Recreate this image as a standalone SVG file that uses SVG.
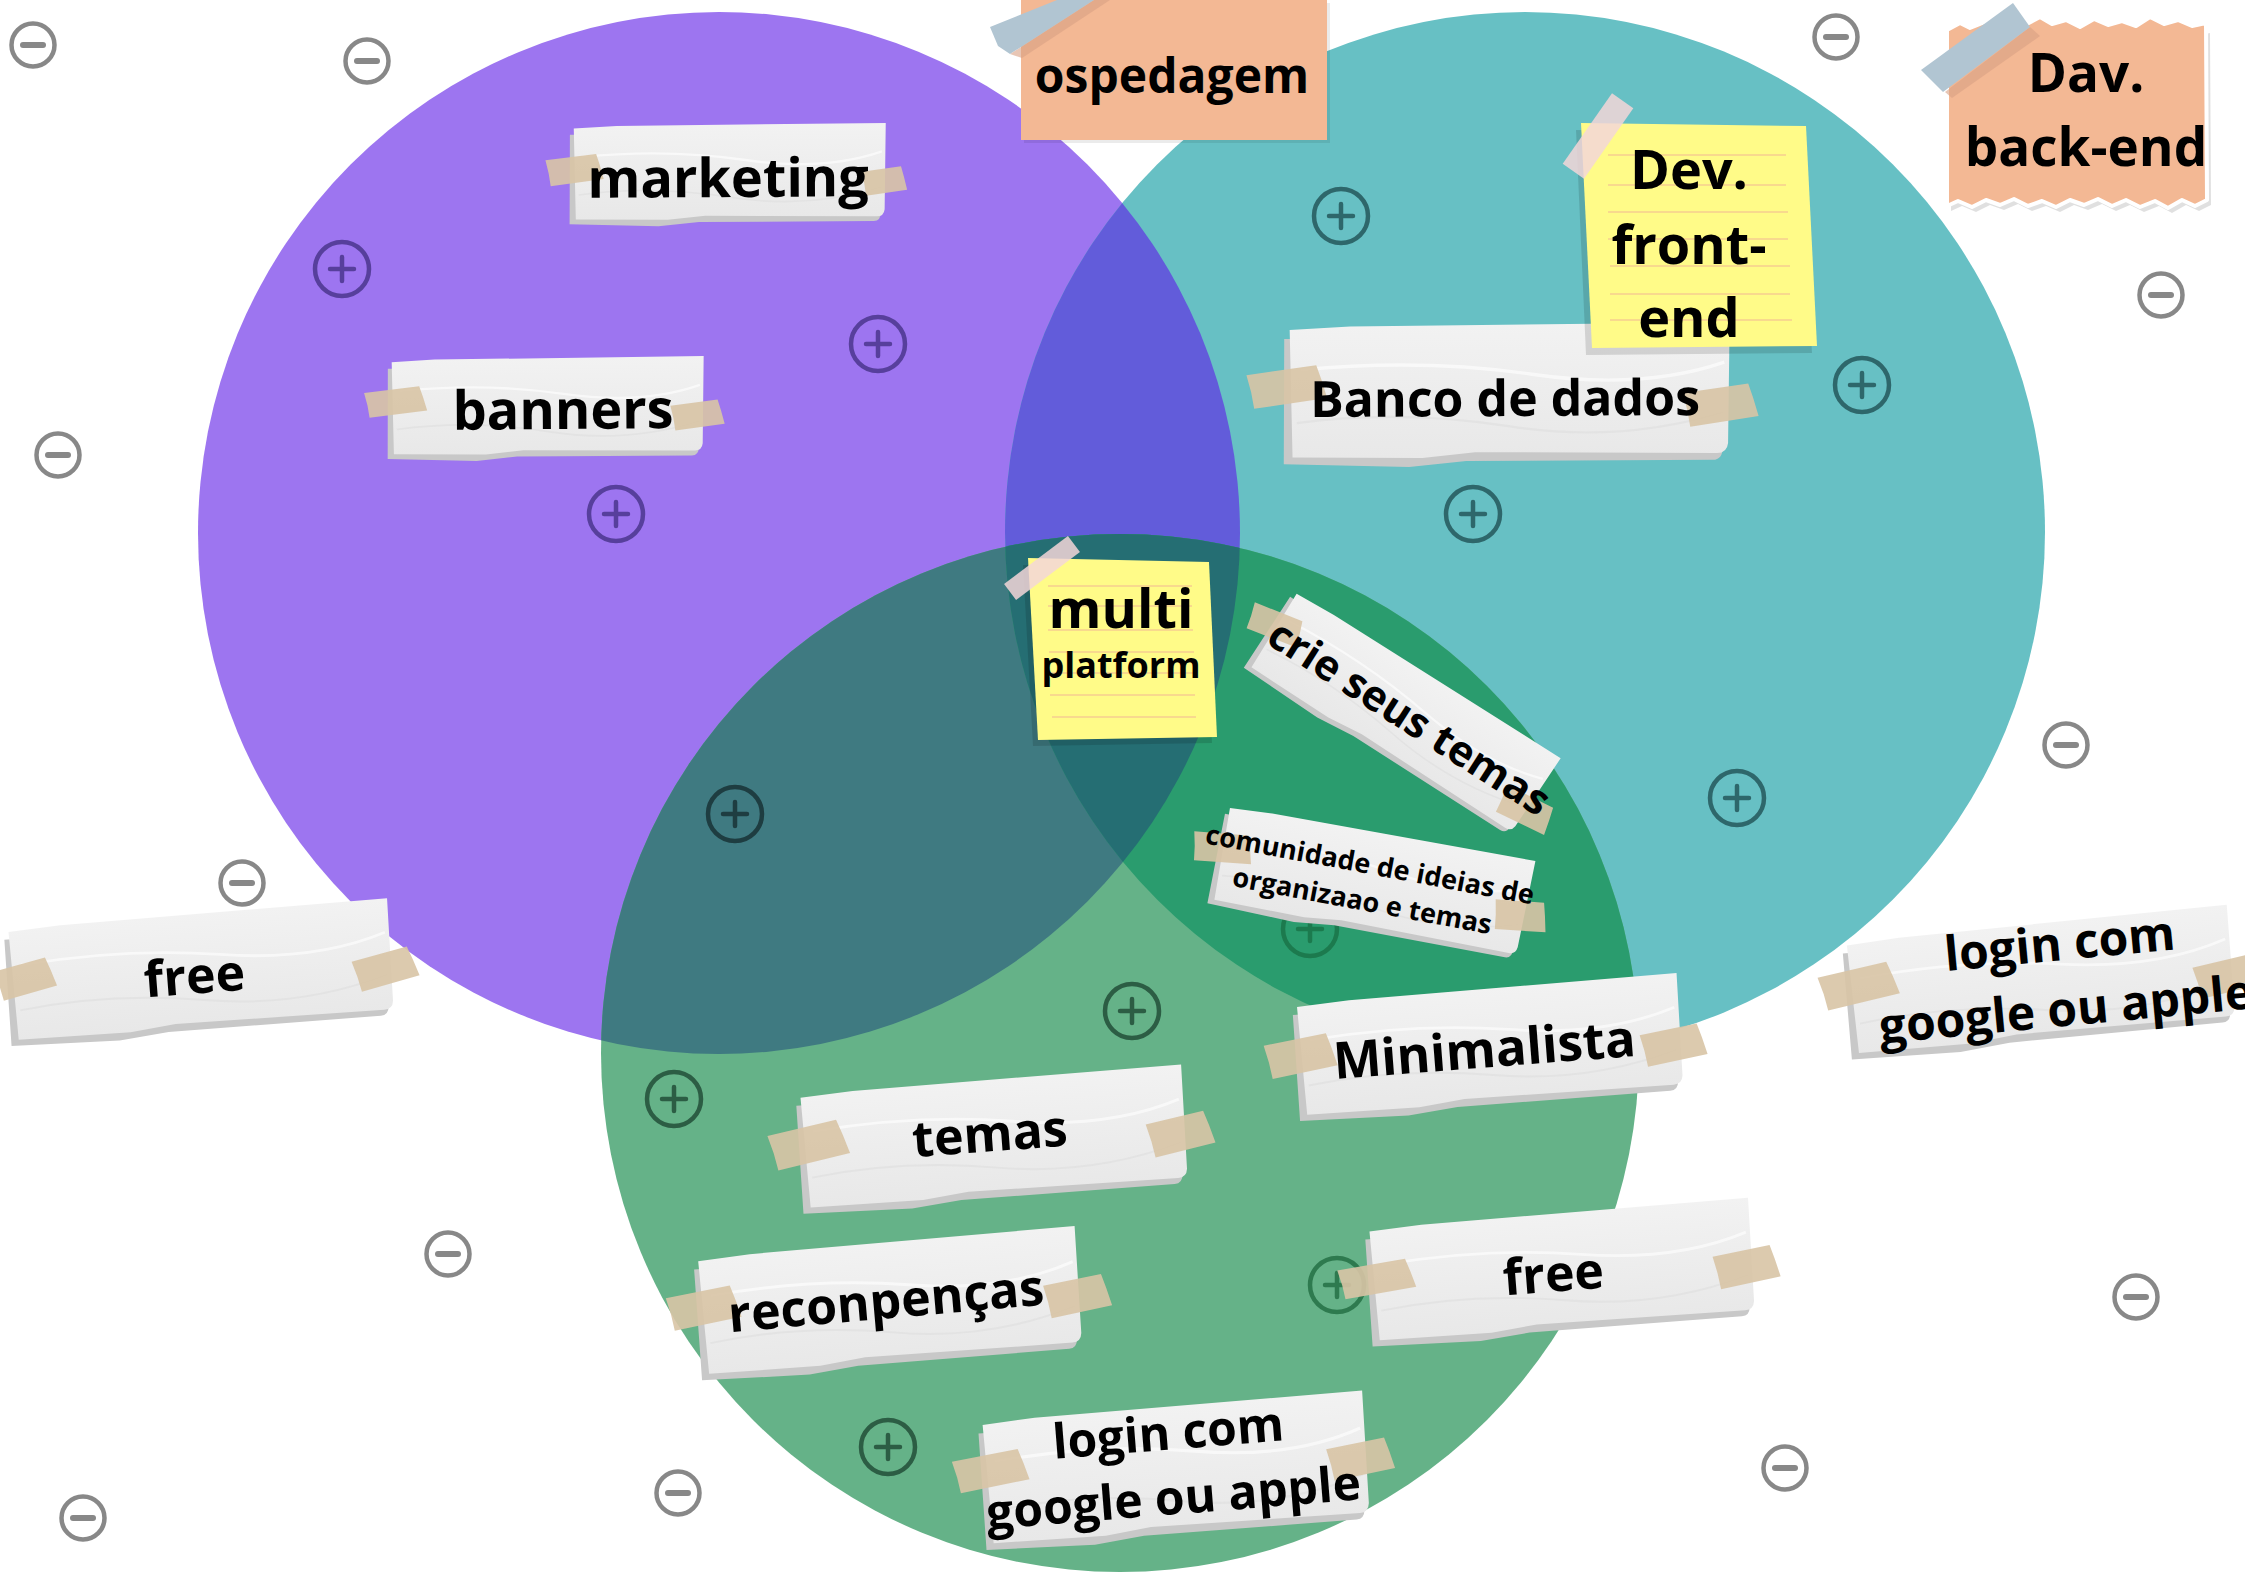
<svg xmlns="http://www.w3.org/2000/svg" width="2245" height="1587" viewBox="0 0 2245 1587">
<defs>
<style>
.t{font-family:"Open Sans","Noto Sans","Liberation Sans",sans-serif;font-weight:700;fill:#000;text-anchor:middle}
.ic circle{fill:none;stroke-width:4.5}
.ic path{fill:none;stroke-width:4.5;stroke-linecap:round}
.mi circle{fill:none;stroke:#888;stroke-width:4.5}
.mi path{fill:none;stroke:#888;stroke-width:6;stroke-linecap:round}
.pp{stroke:#573F9C}
.pt{stroke:#2E676B}
.pg{stroke:#2C5D44}
.ppg{stroke:#1E3D41}
.ptg{stroke:#1C7A4E}
.pg2{stroke:#2E7A4F}
.tp{opacity:.9}
.yl{fill:#FFFB88}
.ysh{fill:#000;opacity:.13}
.yline{stroke:#F8D98E;stroke-width:2;fill:none}
.sal{fill:#F3B894}
.btape{fill:#B1C5D2}
.ptape{fill:#F3D6D8;opacity:.85}
</style>
<clipPath id="cp"><circle cx="719" cy="533" r="521"/></clipPath>
<clipPath id="ct"><circle cx="1525" cy="532" r="520"/></clipPath>
<linearGradient id="paperG" x1="0" y1="0" x2="0" y2="1">
<stop offset="0" stop-color="#F2F2F2"/>
<stop offset="1" stop-color="#E8E8E8"/>
</linearGradient>
<symbol id="card" viewBox="0 0 400 120" preserveAspectRatio="none" style="overflow:visible">
<path d="M-5,12 L-6,125 L108,128 L160,123 L384,123 Q393,123 393,112 L392,16 Z" fill="#C8C8C8"/>
<path d="M0,4 L55,1 L400,-1 L398,108 Q397,117 388,117 L168,115 L120,120 L2,119 Z" fill="url(#paperG)"/>
<path d="M10,40 Q120,30 220,45 T395,35" stroke="#FFFFFF" stroke-opacity=".6" stroke-width="3" fill="none"/>
<path d="M6,88 Q100,76 200,92 T394,80" stroke="#DEDEDE" stroke-opacity=".6" stroke-width="2" fill="none"/>
</symbol>
<symbol id="tape" viewBox="0 0 100 50" preserveAspectRatio="none" style="overflow:visible">
<path d="M2,5 L90,0 L95,20 L100,44 L8,50 L6,28 Z" fill="#D9C5A6"/>
</symbol>
</defs>
<rect width="2245" height="1587" fill="#FFFFFF"/>

<g id="venn">
<circle cx="719" cy="533" r="521" fill="#9D75F0"/>
<circle cx="1525" cy="532" r="520" fill="#67C0C4"/>
<circle cx="1120" cy="1053" r="519" fill="#65B288"/>
<circle cx="1525" cy="532" r="520" fill="#625CDA" clip-path="url(#cp)"/>
<circle cx="1120" cy="1053" r="519" fill="#3F7A81" clip-path="url(#cp)"/>
<circle cx="1120" cy="1053" r="519" fill="#2A9C6E" clip-path="url(#ct)"/>
<g clip-path="url(#cp)"><circle cx="1120" cy="1053" r="519" fill="#256E73" clip-path="url(#ct)"/></g>
</g>

<g id="icons">
<g class="ic pp" transform="translate(342,269)"><circle r="27"/><path d="M-12,0H12M0,-12V12"/></g>
<g class="ic pp" transform="translate(878,344)"><circle r="27"/><path d="M-12,0H12M0,-12V12"/></g>
<g class="ic pp" transform="translate(616,514)"><circle r="27"/><path d="M-12,0H12M0,-12V12"/></g>
<g class="ic ppg" transform="translate(735,814)"><circle r="27"/><path d="M-12,0H12M0,-12V12"/></g>
<g class="ic pt" transform="translate(1341,216)"><circle r="27"/><path d="M-12,0H12M0,-12V12"/></g>
<g class="ic pt" transform="translate(1862,385)"><circle r="27"/><path d="M-12,0H12M0,-12V12"/></g>
<g class="ic pt" transform="translate(1473,514)"><circle r="27"/><path d="M-12,0H12M0,-12V12"/></g>
<g class="ic pt" transform="translate(1737,798)"><circle r="27"/><path d="M-12,0H12M0,-12V12"/></g>
<g class="ic ptg" transform="translate(1310,929)"><circle r="27"/><path d="M-12,0H12M0,-12V12"/></g>
<g class="ic pg" transform="translate(1132,1011)"><circle r="27"/><path d="M-12,0H12M0,-12V12"/></g>
<g class="ic pg" transform="translate(674,1099)"><circle r="27"/><path d="M-12,0H12M0,-12V12"/></g>
<g class="ic pg" transform="translate(888,1447)"><circle r="27"/><path d="M-12,0H12M0,-12V12"/></g>
<g class="ic pg2" transform="translate(1337,1285)"><circle r="27"/><path d="M-12,0H12M0,-12V12"/></g>
<g class="mi" transform="translate(33,45)"><circle r="21.5"/><path d="M-10,0H10"/></g>
<g class="mi" transform="translate(367,61)"><circle r="21.5"/><path d="M-10,0H10"/></g>
<g class="mi" transform="translate(58,455)"><circle r="21.5"/><path d="M-10,0H10"/></g>
<g class="mi" transform="translate(242,883)"><circle r="21.5"/><path d="M-10,0H10"/></g>
<g class="mi" transform="translate(448,1254)"><circle r="21.5"/><path d="M-10,0H10"/></g>
<g class="mi" transform="translate(83,1518)"><circle r="21.5"/><path d="M-10,0H10"/></g>
<g class="mi" transform="translate(678,1493)"><circle r="21.5"/><path d="M-10,0H10"/></g>
<g class="mi" transform="translate(1836,37)"><circle r="21.5"/><path d="M-10,0H10"/></g>
<g class="mi" transform="translate(2161,295)"><circle r="21.5"/><path d="M-10,0H10"/></g>
<g class="mi" transform="translate(2066,745)"><circle r="21.5"/><path d="M-10,0H10"/></g>
<g class="mi" transform="translate(2136,1297)"><circle r="21.5"/><path d="M-10,0H10"/></g>
<g class="mi" transform="translate(1785,1468)"><circle r="21.5"/><path d="M-10,0H10"/></g>
</g>

<g id="connectors"></g>

<g id="n-marketing">
<use href="#card" x="-156" y="-47.5" width="312" height="95" transform="translate(730,172) rotate(-0.3)"/>
<use class="tp" href="#tape" x="-29" y="-14.5" width="58" height="29" transform="translate(574,170) rotate(-4)"/>
<use class="tp" href="#tape" x="-22.5" y="-13.5" width="45" height="27" transform="translate(884,181) rotate(-4)"/>
<text class="t" x="-2" y="25" font-size="54" transform="translate(730,172) rotate(-0.3)">marketing</text>
</g>

<g id="n-banners">
<use href="#card" x="-156" y="-48" width="312" height="96" transform="translate(548,406) rotate(-0.4)"/>
<use class="tp" href="#tape" x="-31.5" y="-14" width="63" height="28" transform="translate(395,402) rotate(-4)"/>
<use class="tp" href="#tape" x="-27" y="-14" width="54" height="28" transform="translate(697,415) rotate(-4)"/>
<text class="t" x="15" y="23" font-size="54" transform="translate(548,406) rotate(-0.4)">banners</text>
</g>

<g id="n-ospedagem">
<rect x="1024" y="3" width="306" height="140" fill="#000" opacity=".08"/>
<rect class="sal" x="1021" y="0" width="306" height="140"/>
<path d="M1010,54 L1094,0 L1110,0 L1022,58 Z" fill="#D9A083" opacity=".6"/>
<path class="btape" d="M990,27 L1057,0 L1094,0 L1010,54 L998,46 Z"/>
<text class="t" x="1172" y="93" font-size="48">ospedagem</text>
</g>

<g id="n-banco">
<use href="#card" x="-220" y="-66.5" width="440" height="133" transform="translate(1510,391) rotate(-0.3)"/>
<use class="tp" href="#tape" x="-40" y="-19" width="80" height="38" transform="translate(1286,387) rotate(-5)"/>
<use class="tp" href="#tape" x="-37.5" y="-19" width="75" height="38" transform="translate(1720,405) rotate(-5)"/>
<text class="t" x="-5" y="25" font-size="50" transform="translate(1510,391) rotate(-0.3)">Banco de dados</text>
</g>

<g id="n-devfront">
<path class="ysh" d="M1576,130 L1800,133 L1812,353 L1586,355 Z"/>
<path class="yl" d="M1581,123 L1806,126 L1817,346 L1592,348 Z"/>
<path class="yline" d="M1608,155H1786M1608,185H1786M1608,212H1788M1608,239H1788M1610,266H1790M1610,294H1790M1610,320H1792"/>
<rect class="ptape" x="-43" y="-13" width="86" height="26" transform="translate(1598,136) rotate(-55)"/>
<text class="t" x="1689" y="189" font-size="54">Dev.</text>
<text class="t" x="1689" y="264" font-size="54">front-</text>
<text class="t" x="1689" y="337" font-size="54">end</text>
</g>

<g id="n-davback">
<path d="M1951,40 L1964,33 L1974,38 L1989,32 L2002,36 L2016,29 L2029,35 L2044,27 L2056,34 L2070,30 L2084,37 L2098,29 L2112,35 L2126,31 L2140,36 L2154,27 L2168,34 L2182,30 L2196,36 L2210,33 L2211,205 L2199,211 L2186,205 L2172,213 L2159,206 L2144,212 L2130,205 L2116,211 L2102,204 L2088,210 L2074,205 L2060,212 L2046,206 L2032,211 L2018,204 L2004,210 L1990,205 L1976,212 L1962,206 L1951,211 Z" fill="#000" opacity=".12"/>
<path class="sal" stroke="#FFFFFF" stroke-width="4" stroke-linejoin="round" d="M1947,30 L1960,23 L1970,28 L1985,22 L1998,26 L2012,19 L2025,25 L2040,17 L2052,24 L2066,20 L2080,27 L2094,19 L2108,25 L2122,21 L2136,26 L2150,17 L2164,24 L2178,20 L2192,26 L2206,23 L2207,200 L2195,206 L2182,200 L2168,208 L2155,201 L2140,207 L2126,200 L2112,206 L2098,199 L2084,205 L2070,200 L2056,207 L2042,201 L2028,206 L2014,199 L2000,205 L1986,200 L1972,207 L1958,201 L1947,206 Z"/>
<path d="M1945,92 L2030,27 L2040,36 L1952,98 Z" fill="#D9A083" opacity=".6"/>
<path class="btape" d="M1921,70 L2013,3 L2030,27 L1943,92 Z"/>
<text class="t" x="2086" y="92" font-size="53">Dav.</text>
<text class="t" x="2086" y="166" font-size="53">back-end</text>
</g>

<g id="n-multi">
<path class="ysh" d="M1023,565 L1204,569 L1212,743 L1033,746 Z"/>
<path class="yl" d="M1028,558 L1209,562 L1217,737 L1038,740 Z"/>
<path class="yline" d="M1048,586H1192M1048,606H1192M1048,630H1193M1049,652H1194M1049,673H1194M1050,695H1195M1052,717H1196"/>
<rect class="ptape" x="-40" y="-10" width="80" height="20" transform="translate(1042,568) rotate(-37)"/>
<text class="t" x="1121" y="628" font-size="54">multi</text>
<text class="t" x="1121" y="678" font-size="36">platform</text>
</g>

<g id="n-crie">
<use href="#card" x="-155.5" y="-45" width="311" height="90" transform="translate(1405,713) rotate(32.6)"/>
<use class="tp" href="#tape" x="-29" y="-15" width="58" height="30" transform="translate(1275,625) rotate(25)"/>
<use class="tp" href="#tape" x="-29" y="-16" width="58" height="32" transform="translate(1525,810) rotate(30)"/>
<text class="t" x="6" y="16" font-size="42" transform="translate(1405,713) rotate(32.6)">crie seus temas</text>
</g>

<g id="n-comunidade">
<use href="#card" x="-155" y="-48.5" width="310" height="97" transform="translate(1374,881) rotate(10.6)"/>
<use class="tp" href="#tape" x="-31" y="-16" width="62" height="32" transform="translate(1222,848) rotate(8)"/>
<use class="tp" href="#tape" x="-27.5" y="-16.5" width="55" height="33" transform="translate(1520,916) rotate(8)"/>
<g transform="translate(1374,881) rotate(10.6)">
<text class="t" x="-7" y="-6" font-size="27">comunidade de ideias de</text>
<text class="t" x="-8" y="31" font-size="27">organizaao e temas</text>
</g>
</g>

<g id="n-free-left">
<use href="#card" x="-190" y="-56.5" width="380" height="113" transform="translate(202,970) rotate(-4.4)"/>
<use class="tp" href="#tape" x="-30" y="-17" width="60" height="34" transform="translate(25,979) rotate(-12)"/>
<use class="tp" href="#tape" x="-32.5" y="-17.5" width="65" height="35" transform="translate(385,969) rotate(-12)"/>
<text class="t" x="-8" y="23" font-size="50" transform="translate(202,970) rotate(-4.4)">free</text>
</g>

<g id="n-login-right">
<use href="#card" x="-191" y="-56.5" width="382" height="113" transform="translate(2042,980) rotate(-5.4)"/>
<use class="tp" href="#tape" x="-40" y="-19" width="80" height="38" transform="translate(1858,986) rotate(-10)"/>
<use class="tp" href="#tape" x="-35" y="-18" width="70" height="36" transform="translate(2228,976) rotate(-10)"/>
<g transform="translate(2042,980) rotate(-5.4)">
<text class="t" x="21" y="-18" font-size="48">login com</text>
<text class="t" x="21" y="48" font-size="48">google ou apple</text>
</g>
</g>

<g id="n-minimalista">
<use href="#card" x="-190.5" y="-56.5" width="381" height="113" transform="translate(1491,1045) rotate(-4.4)"/>
<use class="tp" href="#tape" x="-36" y="-19" width="72" height="38" transform="translate(1300,1056) rotate(-8)"/>
<use class="tp" href="#tape" x="-33" y="-18" width="66" height="36" transform="translate(1673,1045) rotate(-8)"/>
<text class="t" x="-7" y="22" font-size="51" transform="translate(1491,1045) rotate(-4.4)">Minimalista</text>
</g>

<g id="n-temas">
<use href="#card" x="-191" y="-57.5" width="382" height="115" transform="translate(995,1137) rotate(-4.3)"/>
<use class="tp" href="#tape" x="-40" y="-20" width="80" height="40" transform="translate(808,1145) rotate(-10)"/>
<use class="tp" href="#tape" x="-33.5" y="-19" width="67" height="38" transform="translate(1180,1134) rotate(-10)"/>
<text class="t" x="-5" y="14" font-size="50" transform="translate(995,1137) rotate(-4.3)">temas</text>
</g>

<g id="n-reconpencas">
<use href="#card" x="-189" y="-59" width="378" height="118" transform="translate(891,1301) rotate(-4.6)"/>
<use class="tp" href="#tape" x="-37" y="-18.5" width="74" height="37" transform="translate(703,1308) rotate(-8)"/>
<use class="tp" href="#tape" x="-33.5" y="-18.5" width="67" height="37" transform="translate(1077,1296) rotate(-8)"/>
<text class="t" x="-5" y="17" font-size="50" transform="translate(891,1301) rotate(-5)">reconpenças</text>
</g>

<g id="n-login-bottom">
<use href="#card" x="-190.5" y="-62" width="381" height="124" transform="translate(1177,1468) rotate(-4.4)"/>
<use class="tp" href="#tape" x="-38" y="-18" width="76" height="36" transform="translate(990,1471) rotate(-8)"/>
<use class="tp" href="#tape" x="-33.5" y="-18" width="67" height="36" transform="translate(1360,1459) rotate(-8)"/>
<g transform="translate(1177,1468) rotate(-4.6)">
<text class="t" x="-6" y="-19" font-size="48">login com</text>
<text class="t" x="-6" y="46" font-size="48">google ou apple</text>
</g>
</g>

<g id="n-free-bottom">
<use href="#card" x="-190" y="-57" width="380" height="114" transform="translate(1563,1270) rotate(-4.4)"/>
<use class="tp" href="#tape" x="-39" y="-16.5" width="78" height="33" transform="translate(1376,1279) rotate(-7)"/>
<use class="tp" href="#tape" x="-33" y="-18.5" width="66" height="37" transform="translate(1746,1267) rotate(-8)"/>
<text class="t" x="-10" y="21" font-size="50" transform="translate(1563,1270) rotate(-4.4)">free</text>
</g>
</svg>
